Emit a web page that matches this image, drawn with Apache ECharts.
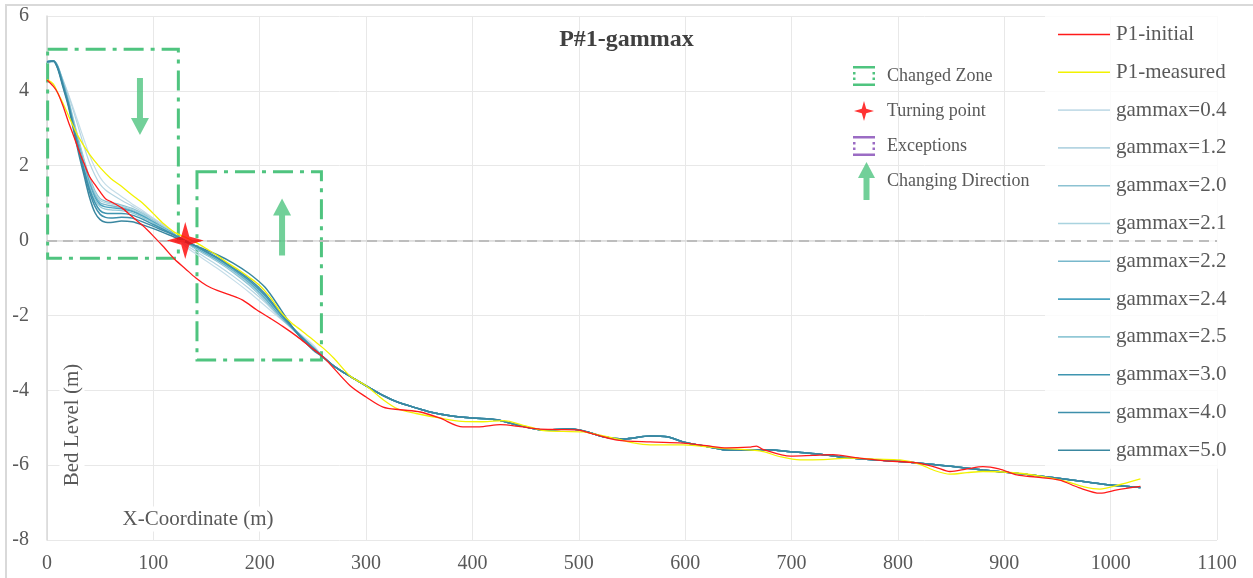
<!DOCTYPE html>
<html>
<head>
<meta charset="utf-8">
<title>P#1-gammax</title>
<script src="https://cdn.jsdelivr.net/npm/echarts@6/dist/echarts.min.js"></script>
<style>
    html, body { margin: 0; padding: 0; background: #fff; }
    #chartMain { width: 1253px; height: 578px; }
</style>
</head>
<body>
<div id="chartMain"></div>
<script>
    // ---- data ----
    let initialX = [0,6,10,15,20,25,30,35,40,45,50,55,60,70,80,90,100,110,120,130,140,150,160,172,184,197,210,222,235,247,260,285,300,316,332,351,369,391,410,426,445,461,480,498,515,536,567,598,620,639,660,667,673,699,720,739,760,786,818,835,849,865,880,895,912,930,952,970,990,1006,1028];
    let initialY = [4.29,4.12,3.95,3.6,3.18,2.8,2.4,2.05,1.71,1.5,1.3,1.12,1.04,0.88,0.64,0.4,0.12,-0.18,-0.5,-0.75,-1.0,-1.2,-1.33,-1.45,-1.59,-1.85,-2.08,-2.3,-2.56,-2.83,-3.12,-3.88,-4.18,-4.45,-4.52,-4.58,-4.74,-4.98,-4.97,-4.92,-4.97,-5.03,-5.05,-5.06,-5.18,-5.33,-5.38,-5.41,-5.48,-5.54,-5.52,-5.49,-5.58,-5.76,-5.74,-5.72,-5.8,-5.88,-5.94,-6.05,-6.17,-6.1,-6.04,-6.1,-6.26,-6.32,-6.4,-6.6,-6.75,-6.66,-6.57];

    let measuredX = [0,6,10,15,20,25,30,40,50,60,70,80,90,100,110,120,130,140,150,160,170,180,190,200,210,220,230,240,250,260,270,285,300,316,330,347,369,390,410,429,450,467,485,504,520,536,550,567,598,630,670,690,708,730,755,780,802,820,835,849,865,880,912,935,959,975,990,1005,1028];
    let measuredY = [4.3,4.18,3.95,3.67,3.35,3.04,2.75,2.3,1.95,1.66,1.45,1.22,1.0,0.72,0.44,0.22,0.09,-0.05,-0.22,-0.4,-0.6,-0.78,-0.98,-1.2,-1.52,-1.92,-2.2,-2.42,-2.65,-2.88,-3.15,-3.62,-3.88,-4.25,-4.5,-4.62,-4.74,-4.83,-4.84,-4.81,-4.95,-5.08,-5.1,-5.11,-5.2,-5.3,-5.4,-5.46,-5.46,-5.54,-5.62,-5.78,-5.86,-5.85,-5.81,-5.84,-5.86,-5.97,-6.15,-6.24,-6.2,-6.17,-6.21,-6.3,-6.44,-6.58,-6.64,-6.55,-6.37];

    // gammax runs: upper part differs, lower part is the same for all of them
    let gammaHeadX = [0,6,10,15,20,25,30,35,40,45,50,55,60,70,80,90,100,115,130,145,160,175,190,205,220,235,250];
    let gammaTailX = [260,270,285,300,316,330,347,360,379,400,423,441,467,492,510,523,542,567,583,598,620,642,660,677,699,730,755,790,818,850,880,912,943,980,1000,1028];
    let gammaTailY = [-3.12,-3.36,-3.63,-3.88,-4.14,-4.32,-4.47,-4.58,-4.68,-4.74,-4.79,-4.92,-5.06,-5.03,-5.13,-5.24,-5.3,-5.22,-5.24,-5.38,-5.5,-5.6,-5.6,-5.59,-5.64,-5.72,-5.81,-5.88,-5.94,-6.03,-6.13,-6.22,-6.32,-6.46,-6.53,-6.6];

    let gamma04 = [4.75,4.77,4.6,4.28,3.92,3.52,3.1,2.68,2.28,1.95,1.68,1.5,1.38,1.18,0.98,0.8,0.6,0.3,-0.15,-0.45,-0.74,-1.05,-1.38,-1.74,-2.1,-2.43,-2.78];
    let gamma12 = [4.76,4.78,4.62,4.3,3.9,3.45,2.98,2.5,2.08,1.75,1.5,1.35,1.25,1.08,0.92,0.76,0.58,0.3,-0.1,-0.38,-0.65,-0.95,-1.28,-1.65,-2.08,-2.44,-2.82];
    let gamma20 = [4.78,4.8,4.68,4.26,3.79,3.22,2.67,2.15,1.69,1.34,1.12,1.05,1.02,0.95,0.86,0.72,0.54,0.27,-0.05,-0.31,-0.56,-0.85,-1.19,-1.6,-2.07,-2.48,-2.87];
    let gamma21 = [4.78,4.8,4.67,4.24,3.76,3.18,2.62,2.1,1.63,1.28,1.07,1.01,0.98,0.92,0.83,0.7,0.52,0.26,-0.04,-0.29,-0.54,-0.83,-1.16,-1.58,-2.06,-2.48,-2.87];
    let gamma22 = [4.78,4.8,4.66,4.22,3.73,3.14,2.57,2.04,1.57,1.22,1.01,0.96,0.93,0.88,0.8,0.67,0.5,0.25,-0.03,-0.27,-0.52,-0.8,-1.13,-1.55,-2.04,-2.47,-2.86];
    let gamma24 = [4.78,4.8,4.65,4.2,3.7,3.1,2.53,1.99,1.52,1.16,0.96,0.9,0.88,0.85,0.78,0.65,0.49,0.25,-0.02,-0.26,-0.5,-0.78,-1.1,-1.52,-2.02,-2.46,-2.85];
    let gamma25 = [4.78,4.8,4.64,4.18,3.68,3.08,2.5,1.95,1.46,1.1,0.9,0.84,0.82,0.8,0.74,0.62,0.47,0.24,-0.01,-0.25,-0.49,-0.77,-1.09,-1.5,-2.0,-2.45,-2.85];
    let gamma30 = [4.78,4.8,4.63,4.16,3.66,3.05,2.45,1.88,1.38,1.02,0.8,0.73,0.72,0.72,0.68,0.57,0.43,0.22,0.0,-0.23,-0.47,-0.75,-1.06,-1.47,-1.98,-2.45,-2.86];
    let gamma40 = [4.78,4.8,4.62,4.15,3.65,3.02,2.4,1.82,1.3,0.92,0.7,0.62,0.6,0.62,0.6,0.5,0.38,0.2,0.0,-0.22,-0.45,-0.72,-1.02,-1.42,-1.95,-2.45,-2.88];
    let gamma50 = [4.78,4.8,4.6,4.1,3.6,2.95,2.3,1.72,1.15,0.75,0.56,0.49,0.48,0.52,0.5,0.42,0.32,0.15,-0.03,-0.2,-0.38,-0.6,-0.88,-1.25,-1.85,-2.48,-2.92];

    let gammaNames = ['gammax=0.4','gammax=1.2','gammax=2.0','gammax=2.1','gammax=2.2','gammax=2.4','gammax=2.5','gammax=3.0','gammax=4.0','gammax=5.0'];
    let gammaHeads = [gamma04, gamma12, gamma20, gamma21, gamma22, gamma24, gamma25, gamma30, gamma40, gamma50];

    // annotations: zone boxes [x1, y1, x2, y2], turning point, arrows [x, y, direction]
    let zoneBoxes = [[0.6, 5.11, 123.5, -0.47], [141, 1.84, 258, -3.19]];
    let turningPoint = [130, 0];
    let arrows = [[87.4, 3.58, 'down'], [221, 0.36, 'up']];

    // ---- styles ----
    let FONT = '"Liberation Serif", "Times New Roman", serif';
    let TXT = '#595959';
    let GREEN = '#4fc47f';
    let gammaColors = ['#c5dde8','#b5d5e2','#8cc2d2','#a9d3df','#78b8cc','#4aa3c0','#92c8d6','#3f95b0','#3d8fab','#3a87a0'];
    let gammaWidths = [1.2, 1.2, 1.3, 1.2, 1.3, 1.4, 1.3, 1.5, 1.5, 1.5];
    let starPath = 'path://M50,0 L61,39 L100,50 L61,61 L50,100 L39,61 L0,50 L39,39 Z';
    let arrowPath = 'path://M9,0 L18,17 L12,17 L12,57 L6,57 L6,17 L0,17 Z';
    let arrowIcon = 'path://M8.5,0 L17,16 L11.5,16 L11.5,38 L5.5,38 L5.5,16 L0,16 Z';
    let boxPath = 'path://M0,0H22V2.5H0Z M0,17.5H22V20H0Z M0,6H2.5V8.5H0Z M0,11.5H2.5V14H0Z M19.5,6H22V8.5H19.5Z M19.5,11.5H22V14H19.5Z';
    let lineIcon = 'path://M0,0H52V1.6H0Z';

    let zip = (xs, ys) => xs.map((x, i) => [x, ys[i]]);

    let series = [];
    gammaNames.forEach((name, i) => {
        series.push({
            name: name,
            type: 'line',
            symbol: 'none',
            smooth: 0.3,
            color: gammaColors[i],
            lineStyle: { width: gammaWidths[i] },
            data: zip(gammaHeadX.concat(gammaTailX), gammaHeads[i].concat(gammaTailY))
        });
    });
    series.push({
        name: 'P1-measured', type: 'line', symbol: 'none', smooth: 0.3,
        color: '#f2f200', lineStyle: { width: 1.3 },
        data: zip(measuredX, measuredY)
    });
    series.push({
        name: 'P1-initial', type: 'line', symbol: 'none', smooth: 0.3,
        color: '#ff1a1a', lineStyle: { width: 1.3 },
        data: zip(initialX, initialY)
    });
    // zone boxes + zero line
    series.push({
        name: 'Changed Zone', type: 'line', symbol: 'none', color: GREEN, data: [],
        markArea: {
            silent: true,
            label: { show: false },
            itemStyle: { color: 'rgba(0,0,0,0)', borderColor: GREEN, borderWidth: 3, borderType: [20, 7, 4, 7] },
            data: zoneBoxes.map(b => [{ coord: [b[0], b[1]] }, { coord: [b[2], b[3]] }])
        },
        markLine: {
            silent: true, symbol: 'none', label: { show: false },
            lineStyle: { color: '#bdbdbd', width: 2, type: [10, 6] },
            data: [{ yAxis: 0 }]
        }
    });
    series.push({ name: 'Exceptions', type: 'line', symbol: 'none', color: '#9b6cc4', data: [] });
    series.push({
        name: 'Turning point', type: 'scatter', symbol: starPath, symbolSize: [37, 37],
        color: '#ff0000', z: 5, data: [turningPoint]
    });
    series.push({
        name: 'Changing Direction', type: 'scatter', symbol: arrowPath, symbolSize: [18, 57],
        color: GREEN, z: 5,
        data: arrows.map(a => ({ value: [a[0], a[1]], symbolRotate: a[2] == 'down' ? 180 : 0 }))
    });

    let myChart = echarts.init(document.getElementById('chartMain'));
    myChart.setOption({
        backgroundColor: '#fff',
        animation: false,
        title: {
            text: 'P#1-gammax', left: 'center', top: 23,
            textStyle: { fontFamily: FONT, fontWeight: 'bold', fontSize: 24, color: '#404040' }
        },
        grid: { left: 47, right: 36, top: 16, bottom: 38 },
        xAxis: {
            type: 'value', min: 0, max: 1100, interval: 100,
            axisLine: { lineStyle: { color: '#d9d9d9', width: 1.5 } },
            axisTick: { show: false },
            axisLabel: { fontFamily: FONT, fontSize: 20, color: TXT, margin: 14, formatter: v => String(v) },
            splitLine: { lineStyle: { color: '#e8e8e8' } }
        },
        yAxis: {
            type: 'value', min: -8, max: 6, interval: 2,
            axisLine: { show: true, lineStyle: { color: '#d9d9d9', width: 1.5 } },
            axisTick: { show: false },
            axisLabel: { fontFamily: FONT, fontSize: 20, color: TXT, margin: 18 },
            splitLine: { lineStyle: { color: '#e8e8e8' } }
        },
        legend: [
            {
                data: ['P1-initial', 'P1-measured'].concat(gammaNames),
                icon: lineIcon,
                orient: 'vertical', left: 1045, top: 16,
                padding: [8, 10, 8, 13], itemGap: 16.8, itemWidth: 52, itemHeight: 14,
                backgroundColor: 'rgba(255,255,255,0.8)',
                textStyle: { fontFamily: FONT, fontSize: 21, color: TXT, padding: [0, 0, 0, 1] }
            },
            {
                data: [
                    { name: 'Changed Zone', icon: boxPath },
                    { name: 'Turning point', icon: starPath },
                    { name: 'Exceptions', icon: boxPath }
                ],
                orient: 'vertical', left: 853, top: 66, padding: 0,
                itemGap: 15, itemWidth: 22, itemHeight: 20,
                textStyle: { fontFamily: FONT, fontSize: 18, color: TXT, padding: [0, 0, 0, 7] }
            },
            {
                data: [{ name: 'Changing Direction', icon: arrowIcon }],
                orient: 'vertical', left: 858, top: 162, padding: 0,
                itemWidth: 17, itemHeight: 38,
                textStyle: { fontFamily: FONT, fontSize: 18, color: TXT, padding: [0, 0, 4, 7] }
            }
        ],
        graphic: [
            {
                type: 'rect', silent: true, z: -1,
                shape: { x: 6, y: 5, width: 1260, height: 590 },
                style: { fill: 'none', stroke: '#d9d9d9', lineWidth: 2 }
            },
            {
                type: 'text', x: 72, y: 425, rotation: Math.PI / 2, z: 10,
                style: {
                    text: 'Bed Level (m)', font: '21px ' + FONT, fill: TXT,
                    align: 'center', verticalAlign: 'middle', backgroundColor: '#fff', padding: [2, 4]
                }
            },
            {
                type: 'text', x: 198, y: 519, z: 10,
                style: {
                    text: 'X-Coordinate (m)', font: '21px ' + FONT, fill: TXT,
                    align: 'center', verticalAlign: 'middle', backgroundColor: '#fff', padding: [2, 4]
                }
            }
        ],
        series: series
    });
</script>
</body>
</html>
